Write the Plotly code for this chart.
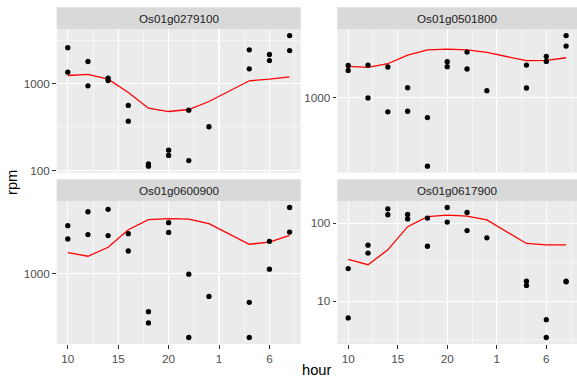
import plotly.graph_objects as go
import math

W, H = 577, 378

genes = ["Os01g0279100", "Os01g0501800", "Os01g0600900", "Os01g0617900"]

point_hours = [10, 10, 12, 12, 14, 14, 16, 16, 18, 18, 20, 20, 22, 22, 24, 28, 28, 30, 30, 32, 32]
line_hours = [10, 12, 14, 16, 18, 20, 22, 24, 28, 30, 32]

rpm_g1 = [2580, 1350, 1790, 940, 1150, 1080, 560, 369, 119, 112, 171, 149, 493, 130, 318,
          2440, 1475, 2155, 1836, 3560, 2390]
fit_g1 = [1236, 1270, 1120, 788, 520, 476, 502, 621, 1074, 1120, 1194]

rpm_g2 = [1549, 1448, 1557, 996, 1516, 824, 1145, 831, 763, 394, 1629, 1522, 1857, 1475, 1099,
          1557, 1140, 1750, 1635, 2325, 2014]
fit_g2 = [1528, 1507, 1585, 1783, 1914, 1933, 1914, 1847, 1652, 1657, 1719]

rpm_g3 = [1927, 1607, 2328, 1706, 2404, 1683, 1728, 1365, 598, 513, 2005, 1758, 996, 421, 736,
          679, 421, 1557, 1066, 2466, 1766]
fit_g3 = [1336, 1271, 1435, 1824, 2089, 2118, 2108, 1978, 1496, 1542, 1690]

rpm_g4 = [26.2, 6.07, 52.4, 41.4, 154, 129, 130, 114, 117, 50.8, 160, 104, 138, 80.7, 65.1,
          18.0, 15.9, 5.77, 3.40, 18.0, 17.7]
fit_g4 = [34.4, 29.4, 45.7, 90.7, 122, 128, 124, 111, 55.1, 53.0, 53.0]

x_tickvals = [10, 15, 20, 25, 30]
x_ticktext = ["10", "15", "20", "1", "6"]
x_minor = [12.5, 17.5, 22.5, 27.5, 32.5]

series = [(rpm_g1, fit_g1), (rpm_g2, fit_g2), (rpm_g3, fit_g3), (rpm_g4, fit_g4)]

# panel geometry in pixels (left, right, top, bottom)
panels = [(56.7, 300.7, 29.0, 172.7), (337.3, 577.0, 29.0, 172.7),
          (56.7, 300.7, 201.0, 344.0), (337.3, 577.0, 201.0, 344.0)]
strip_h = 21.7

FONT = "Liberation Sans, Arial, sans-serif"
fig = go.Figure()
layout = dict(width=W, height=H, margin=dict(l=0, r=0, t=0, b=0, pad=0, autoexpand=False),
              paper_bgcolor="white", plot_bgcolor="#EBEBEB", showlegend=False,
              font=dict(family=FONT))
shapes, annotations = [], []

xlo, xhi = min(point_hours), max(point_hours)
xpad = 0.05 * (xhi - xlo)

for i, (gene, (pts, fit)) in enumerate(zip(genes, series)):
    n = i + 1
    xa = "x" if n == 1 else f"x{n}"
    ya = "y" if n == 1 else f"y{n}"
    l, r, t, b = panels[i]
    vals = [math.log10(v) for v in pts + fit]
    lo, hi = min(vals), max(vals)
    pad = 0.05 * (hi - lo)
    fig.add_trace(go.Scatter(x=line_hours, y=fit, mode="lines",
                             line=dict(color="red", width=1.3), xaxis=xa, yaxis=ya,
                             hoverinfo="skip"))
    fig.add_trace(go.Scatter(x=point_hours, y=pts, mode="markers",
                             marker=dict(color="black", size=5.3), xaxis=xa, yaxis=ya))
    bottom = i >= 2
    layout["xaxis" if n == 1 else f"xaxis{n}"] = dict(
        domain=[l / W, r / W], anchor=ya, range=[xlo - xpad, xhi + xpad], automargin=False,
        tickvals=x_tickvals, ticktext=x_ticktext, showgrid=True, gridcolor="white",
        gridwidth=1.1, zeroline=False, showline=False,
        ticks="outside" if bottom else "", ticklen=3.7, tickcolor="#333333", tickwidth=1,
        showticklabels=bottom, tickfont=dict(size=11.7, color="#4D4D4D", family=FONT),
        minor=dict(tickvals=x_minor, showgrid=True, gridcolor="white", gridwidth=0.55, ticks=""),
    )
    dec = list(range(math.floor(lo) - 1, math.ceil(hi) + 2))
    majors = [10 ** d for d in dec]
    minors = [10 ** (d + 0.5) for d in dec]
    layout["yaxis" if n == 1 else f"yaxis{n}"] = dict(
        domain=[1 - b / H, 1 - t / H], anchor=xa, type="log", range=[lo - pad, hi + pad],
        automargin=False,
        tickvals=majors, ticktext=[str(int(v)) for v in majors],
        showgrid=True, gridcolor="white", gridwidth=1.1, zeroline=False, showline=False,
        ticks="outside", ticklen=3.7, tickcolor="#333333", tickwidth=1,
        tickfont=dict(size=11.7, color="#4D4D4D", family=FONT),
        minor=dict(tickvals=minors, showgrid=True, gridcolor="white", gridwidth=0.55, ticks=""),
    )
    shapes.append(dict(type="rect", xref="paper", yref="paper", x0=l / W, x1=r / W,
                       y0=1 - t / H, y1=1 - (t - strip_h) / H, fillcolor="#D9D9D9",
                       line=dict(width=0), layer="below"))
    annotations.append(dict(text=gene, xref="paper", yref="paper", x=(l + r) / 2 / W,
                            y=1 - (t - strip_h / 2) / H, showarrow=False, xanchor="center",
                            yanchor="middle", font=dict(size=11.7, color="#1A1A1A", family=FONT)))

annotations.append(dict(text="hour", xref="paper", yref="paper", x=316.8 / W, y=1 - 370 / H,
                        showarrow=False, xanchor="center", yanchor="middle",
                        font=dict(size=14.7, color="black", family=FONT)))
annotations.append(dict(text="rpm", xref="paper", yref="paper", x=12 / W, y=1 - 183 / H,
                        showarrow=False, xanchor="center", yanchor="middle", textangle=-90,
                        font=dict(size=14.7, color="black", family=FONT)))

layout["shapes"] = shapes
layout["annotations"] = annotations
fig.update_layout(**layout)
fig.write_html("out.html", config={"displayModeBar": False, "staticPlot": True})

# remove the browser's default page margin so the figure sits at the window's corner
with open("out.html", "r", encoding="utf-8") as f:
    html = f.read()
html = html.replace("<head>", "<head><style>html,body{margin:0;padding:0;overflow:hidden}</style>", 1)
with open("out.html", "w", encoding="utf-8") as f:
    f.write(html)
